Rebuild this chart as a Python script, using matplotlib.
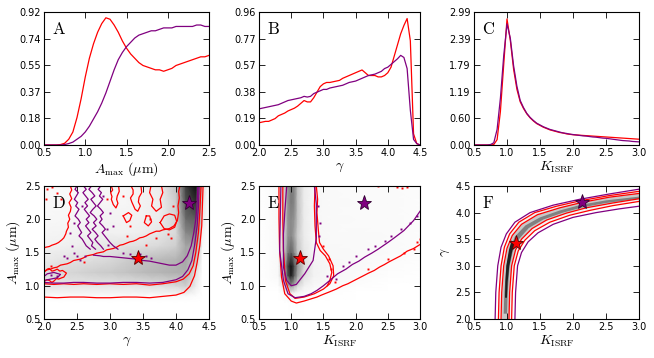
import numpy as np
import matplotlib
matplotlib.use('Agg')
import matplotlib.pyplot as plt

plt.rcParams['mathtext.fontset'] = 'cm'
plt.rcParams['font.family'] = 'DejaVu Sans'

RED = '#ff0000'
PUR = '#800080'

# ---------------- top row: 1D histograms ----------------
xA = np.linspace(0.5, 2.5, 41)
A_red = [0, 0, 0, 0, 0.003, 0.012, 0.04, 0.09, 0.19, 0.32, 0.47, 0.60, 0.70, 0.78, 0.84, 0.88,
         0.87, 0.83, 0.78, 0.72, 0.67, 0.63, 0.60, 0.57, 0.55, 0.54, 0.53, 0.52, 0.52, 0.51, 0.52,
         0.53, 0.55, 0.56, 0.57, 0.58, 0.59, 0.60, 0.61, 0.61, 0.62]
A_pur = [0, 0, 0, 0, 0, 0.003, 0.01, 0.02, 0.04, 0.06, 0.09, 0.13, 0.18, 0.23, 0.29, 0.36, 0.44,
         0.52, 0.59, 0.64, 0.68, 0.71, 0.74, 0.76, 0.77, 0.78, 0.79, 0.79, 0.80, 0.81, 0.81, 0.81,
         0.82, 0.82, 0.82, 0.82, 0.82, 0.83, 0.83, 0.82, 0.82]

xB = np.linspace(2.0, 4.5, 51)
B_pur = [0.26, 0.265, 0.27, 0.275, 0.28, 0.285, 0.29, 0.30, 0.31, 0.32, 0.325, 0.33, 0.335, 0.34,
         0.35, 0.345, 0.35, 0.37, 0.38, 0.39, 0.40, 0.40, 0.41, 0.415, 0.42, 0.425, 0.43, 0.44,
         0.45, 0.455, 0.46, 0.47, 0.48, 0.49, 0.50, 0.505, 0.51, 0.52, 0.53, 0.55, 0.56, 0.58,
         0.60, 0.62, 0.645, 0.63, 0.55, 0.25, 0.04, 0.01, 0.0]
B_red = [0.16, 0.165, 0.17, 0.17, 0.18, 0.19, 0.21, 0.22, 0.23, 0.245, 0.255, 0.265, 0.28, 0.30,
         0.32, 0.31, 0.31, 0.34, 0.38, 0.42, 0.44, 0.45, 0.45, 0.455, 0.46, 0.465, 0.48, 0.49,
         0.50, 0.51, 0.52, 0.53, 0.54, 0.52, 0.50, 0.50, 0.50, 0.49, 0.49, 0.50, 0.52, 0.56,
         0.64, 0.72, 0.80, 0.86, 0.91, 0.75, 0.08, 0.01, 0.0]

xC = np.linspace(0.5, 3.0, 51)
C_red = [0, 0, 0, 0, 0, 0, 0.01, 0.12, 0.75, 1.80, 2.83, 2.35, 1.70, 1.25, 0.97, 0.82, 0.70, 0.61,
         0.54, 0.48, 0.44, 0.40, 0.37, 0.34, 0.32, 0.30, 0.28, 0.27, 0.25, 0.24, 0.23, 0.225, 0.22,
         0.215, 0.21, 0.205, 0.20, 0.195, 0.19, 0.185, 0.18, 0.175, 0.17, 0.165, 0.16, 0.155,
         0.15, 0.145, 0.14, 0.135, 0.13]
C_pur = [0, 0, 0, 0, 0, 0.01, 0.05, 0.35, 1.05, 2.0, 2.72, 2.40, 1.78, 1.32, 1.0, 0.84, 0.71, 0.62,
         0.55, 0.49, 0.45, 0.41, 0.38, 0.35, 0.33, 0.31, 0.29, 0.27, 0.26, 0.245, 0.235, 0.225,
         0.215, 0.205, 0.20, 0.19, 0.18, 0.175, 0.165, 0.155, 0.15, 0.14, 0.13, 0.12, 0.11, 0.10,
         0.095, 0.09, 0.08, 0.075, 0.07]

# best-fit parameters (A_max, gamma, K_ISRF) marked by stars
star_red = (1.41, 3.42, 1.14)
star_pur = (2.25, 4.20, 2.13)

# ---------------- panel D: gamma vs A_max ----------------
gD_x = [2.0, 2.25, 2.5, 2.75, 3.0, 3.25, 3.5, 3.75, 4.0, 4.15, 4.3, 4.4, 4.5]
gD_y = [0.5, 0.75, 0.85, 1.0, 1.2, 1.4, 1.6, 1.8, 2.0, 2.25, 2.5]
gD_v = [
    [0, 0, 0, 0, 0, 0, 0, 0, 0, 0, 0, 0, 0],
    [0, 0, 0, 0, 0, 0, 0, 0, 0, 0, 0, 0, 0],
    [0.05, 0.05, 0.05, 0.05, 0.05, 0.05, 0.05, 0.05, 0.05, 0.05, 0.03, 0, 0],
    [0.18, 0.18, 0.18, 0.18, 0.18, 0.18, 0.2, 0.22, 0.25, 0.3, 0.15, 0, 0],
    [0.22, 0.25, 0.27, 0.3, 0.32, 0.35, 0.38, 0.4, 0.42, 0.42, 0.2, 0, 0],
    [0.15, 0.18, 0.2, 0.22, 0.25, 0.3, 0.35, 0.38, 0.4, 0.45, 0.35, 0, 0],
    [0.1, 0.12, 0.14, 0.16, 0.18, 0.2, 0.22, 0.25, 0.3, 0.45, 0.45, 0.05, 0],
    [0.08, 0.09, 0.1, 0.12, 0.12, 0.12, 0.14, 0.18, 0.25, 0.55, 0.6, 0.1, 0],
    [0.06, 0.07, 0.08, 0.1, 0.1, 0.1, 0.12, 0.15, 0.28, 0.65, 0.7, 0.15, 0],
    [0.05, 0.06, 0.07, 0.08, 0.08, 0.08, 0.1, 0.14, 0.3, 0.75, 0.85, 0.2, 0],
    [0.05, 0.05, 0.06, 0.07, 0.07, 0.08, 0.1, 0.15, 0.35, 0.8, 0.95, 0.25, 0],
]
D_red = [
    [(2.0, 0.83), (2.2, 0.82), (2.4, 0.83), (2.6, 0.83), (2.8, 0.82), (3.0, 0.82), (3.2, 0.83),
     (3.4, 0.83), (3.6, 0.82), (3.8, 0.84), (4.0, 0.86), (4.12, 0.9), (4.21, 0.99), (4.28, 1.15),
     (4.32, 1.35), (4.36, 1.6), (4.39, 1.9), (4.40, 2.2), (4.41, 2.5)],
    [(2.0, 1.03), (2.15, 1.02), (2.3, 1.03), (2.45, 1.02), (2.6, 1.03), (2.8, 1.02), (3.0, 1.03),
     (3.2, 1.02), (3.4, 1.03), (3.6, 1.01), (3.8, 1.03), (4.0, 1.06), (4.11, 1.1), (4.2, 1.18),
     (4.26, 1.3), (4.3, 1.5), (4.34, 1.8), (4.36, 2.1), (4.38, 2.5)],
    [(2.40, 2.50), (2.42, 2.44), (2.39, 2.38), (2.42, 2.31), (2.38, 2.25), (2.41, 2.18), (2.40, 2.12),
     (2.37, 2.06), (2.39, 2.0), (2.36, 1.94), (2.37, 1.88), (2.34, 1.82), (2.33, 1.78), (2.30, 1.72),
     (2.27, 1.69), (2.22, 1.65), (2.18, 1.63), (2.12, 1.61), (2.08, 1.59), (2.03, 1.58), (2.0, 1.57)],
    [(2.0, 1.22), (2.05, 1.24), (2.1, 1.25), (2.15, 1.27), (2.2, 1.28), (2.25, 1.31), (2.3, 1.32),
     (2.35, 1.33), (2.4, 1.35), (2.45, 1.38), (2.5, 1.39), (2.55, 1.40), (2.6, 1.42), (2.65, 1.45),
     (2.7, 1.46), (2.75, 1.47), (2.8, 1.49), (2.85, 1.50), (2.9, 1.51), (2.95, 1.54), (3.0, 1.55),
     (3.05, 1.56), (3.1, 1.58), (3.15, 1.61), (3.2, 1.62), (3.25, 1.64), (3.3, 1.66), (3.35, 1.67),
     (3.4, 1.69), (3.45, 1.72), (3.5, 1.73), (3.55, 1.75), (3.6, 1.78), (3.65, 1.80), (3.7, 1.82),
     (3.75, 1.82), (3.8, 1.84), (3.85, 1.85), (3.9, 1.86), (3.97, 1.9), (4.02, 1.98), (4.04, 2.1),
     (4.03, 2.2), (4.05, 2.32), (4.04, 2.42), (4.06, 2.5)],
    [(3.02, 2.5), (3.04, 2.44), (3.01, 2.4), (3.03, 2.34), (3.02, 2.3), (3.05, 2.22), (3.09, 2.17),
     (3.12, 2.24), (3.10, 2.3), (3.11, 2.35), (3.14, 2.42), (3.13, 2.5)],
    [(3.32, 2.5), (3.35, 2.44), (3.35, 2.38), (3.31, 2.32), (3.33, 2.26), (3.38, 2.15), (3.42, 2.12),
     (3.46, 2.2), (3.43, 2.26), (3.44, 2.33), (3.48, 2.4), (3.47, 2.5)],
    [(3.62, 2.5), (3.6, 2.4), (3.65, 2.3), (3.63, 2.2), (3.7, 2.12), (3.78, 2.18), (3.76, 2.3),
     (3.8, 2.4), (3.78, 2.5)],
    [(3.76, 1.95), (3.82, 1.86), (3.9, 1.84), (3.98, 1.88), (4.01, 1.97), (3.98, 2.06), (3.9, 2.08),
     (3.82, 2.05), (3.76, 1.95)],
    [(3.2, 2.05), (3.25, 1.95), (3.3, 1.98), (3.33, 2.06), (3.28, 2.1), (3.2, 2.05)],
    [(3.55, 2.05), (3.52, 1.95), (3.58, 1.9), (3.63, 1.96), (3.6, 2.05), (3.55, 2.05)],
    [(2.0, 1.06), (2.04, 1.09), (2.08, 1.08), (2.12, 1.05), (2.15, 1.07), (2.19, 1.11), (2.22, 1.1),
     (2.27, 1.12), (2.3, 1.13), (2.34, 1.19), (2.31, 1.21), (2.28, 1.23), (2.24, 1.22), (2.2, 1.25),
     (2.16, 1.23), (2.12, 1.22), (2.08, 1.26), (2.05, 1.25), (2.0, 1.2)],
]
D_pur = [
    [(2.0, 1.05), (2.15, 1.04), (2.3, 1.04), (2.45, 1.05), (2.6, 1.05), (2.8, 1.04), (3.0, 1.04),
     (3.2, 1.05), (3.4, 1.05), (3.6, 1.04), (3.8, 1.05), (4.0, 1.09), (4.1, 1.14), (4.18, 1.24),
     (4.24, 1.38), (4.28, 1.6), (4.32, 1.9), (4.34, 2.2), (4.35, 2.5)],
    [(2.75, 1.46), (2.85, 1.45), (2.9, 1.44), (3.0, 1.44), (3.1, 1.43), (3.2, 1.42), (3.3, 1.41),
     (3.4, 1.40), (3.5, 1.38), (3.6, 1.37), (3.7, 1.35), (3.8, 1.33), (3.9, 1.31), (4.0, 1.31),
     (4.1, 1.36), (4.17, 1.45), (4.23, 1.6), (4.27, 1.8), (4.3, 2.0), (4.32, 2.25), (4.33, 2.5)],
    [(2.0, 1.08), (2.1, 1.1), (2.2, 1.12), (2.25, 1.17), (2.15, 1.2), (2.05, 1.18), (2.0, 1.14)],
]
# jagged purple contour column around gamma ~ 2.5-2.9 (sampled at A_max 2.50 ... 1.55)
D_col_y = [2.50, 2.45, 2.40, 2.35, 2.30, 2.25, 2.20, 2.15, 2.10, 2.05, 2.00, 1.95, 1.90, 1.85,
           1.80, 1.75, 1.70, 1.65, 1.60, 1.55]
D_col_x = [
    [2.50, 2.47, 2.52, 2.49, 2.46, 2.51, 2.48, 2.53, 2.50, 2.47, 2.52, 2.55, 2.51, 2.54, 2.57,
     2.53, 2.58, 2.61, 2.64, 2.70],
    [2.60, 2.64, 2.59, 2.63, 2.67, 2.62, 2.66, 2.61, 2.65, 2.69, 2.64, 2.68, 2.63, 2.67, 2.71,
     2.66, 2.70, 2.74, 2.72, 2.78],
    [2.72, 2.68, 2.73, 2.77, 2.71, 2.75, 2.79, 2.74, 2.70, 2.76, 2.80, 2.75, 2.79, 2.73, 2.78,
     2.82, 2.77, 2.81, 2.86, 2.90],
    [2.86, 2.82, 2.87, 2.84, 2.89, 2.85, 2.81, 2.86, 2.90, 2.85, 2.88, 2.84, 2.89, 2.93, 2.88,
     2.92, 2.96, 3.00, 3.05, 3.12],
]
D_pur_dots = [(2.35, 1.42), (2.45, 1.5), (2.55, 1.38), (2.62, 1.45), (3.45, 1.47), (3.55, 1.44),
              (2.4, 1.8), (2.45, 1.95), (2.95, 1.85), (3.0, 2.1), (2.2, 1.15), (2.1, 1.16),
              (2.9, 2.35), (2.58, 2.2), (3.2, 1.5), (2.3, 1.45), (2.42, 1.6), (2.97, 1.62),
              (3.05, 1.9), (2.5, 1.45), (3.3, 1.47), (3.62, 1.41)]
D_red_dots = [(2.05, 2.45), (2.12, 2.48), (2.2, 2.4), (3.25, 1.75), (3.55, 1.62), (3.7, 1.72),
              (3.92, 1.72), (2.6, 1.35), (2.1, 1.3), (3.3, 1.9), (3.6, 2.0), (2.25, 2.3),
              (2.95, 2.3), (3.2, 2.35), (3.88, 1.78), (3.95, 2.2), (2.03, 2.3)]

# ---------------- panel E: K_ISRF vs A_max ----------------
gE_x = [0.5, 0.8, 0.9, 0.95, 1.0, 1.05, 1.1, 1.2, 1.35, 1.6, 2.0, 2.5, 3.0]
gE_y = [0.5, 0.75, 0.9, 1.0, 1.15, 1.3, 1.5, 1.75, 2.0, 2.25, 2.5]
gE_v = [
    [0, 0, 0, 0, 0, 0, 0, 0, 0, 0, 0, 0, 0],
    [0, 0, 0, 0, 0.02, 0.02, 0.02, 0, 0, 0, 0, 0, 0],
    [0, 0, 0.05, 0.1, 0.15, 0.12, 0.08, 0.05, 0.03, 0.02, 0, 0, 0],
    [0, 0.02, 0.2, 0.4, 0.5, 0.4, 0.25, 0.12, 0.06, 0.04, 0.02, 0, 0],
    [0, 0.05, 0.4, 0.75, 0.9, 0.7, 0.45, 0.22, 0.1, 0.06, 0.04, 0.02, 0],
    [0, 0.05, 0.45, 0.8, 0.95, 0.75, 0.5, 0.25, 0.1, 0.07, 0.05, 0.03, 0.01],
    [0, 0.05, 0.35, 0.6, 0.7, 0.55, 0.35, 0.18, 0.08, 0.06, 0.05, 0.04, 0.03],
    [0, 0.05, 0.3, 0.5, 0.55, 0.45, 0.3, 0.15, 0.07, 0.05, 0.05, 0.04, 0.03],
    [0, 0.05, 0.3, 0.5, 0.55, 0.5, 0.35, 0.15, 0.07, 0.05, 0.04, 0.04, 0.03],
    [0, 0.05, 0.3, 0.5, 0.6, 0.55, 0.35, 0.15, 0.07, 0.05, 0.04, 0.04, 0.03],
    [0, 0.05, 0.3, 0.5, 0.6, 0.55, 0.35, 0.15, 0.07, 0.05, 0.04, 0.04, 0.03],
]
E_red = [
    [(0.81, 2.5), (0.81, 2.03), (0.82, 1.53), (0.85, 1.13), (0.9, 0.88), (1.0, 0.77), (1.08, 0.74),
     (1.2, 0.77), (1.3, 0.8), (1.4, 0.83), (1.47, 0.86), (1.6, 0.91), (1.7, 0.95), (1.8, 1.0),
     (1.88, 1.03), (2.0, 1.09), (2.1, 1.14), (2.2, 1.19), (2.29, 1.23), (2.37, 1.28), (2.45, 1.32),
     (2.52, 1.36), (2.6, 1.4), (2.7, 1.45), (2.8, 1.52), (2.9, 1.56), (3.0, 1.62)],
    [(0.87, 2.5), (0.87, 2.0), (0.88, 1.53), (0.91, 1.08), (0.98, 0.88), (1.06, 0.81), (1.2, 0.83),
     (1.36, 0.88), (1.5, 0.95), (1.6, 1.03), (1.66, 1.15), (1.65, 1.3), (1.58, 1.45), (1.5, 1.55),
     (1.44, 1.65), (1.42, 1.85), (1.4, 2.1), (1.41, 2.3), (1.39, 2.5)],
    [(1.56, 1.0), (1.6, 1.08), (1.63, 1.2), (1.6, 1.33), (1.53, 1.45), (1.45, 1.53), (1.39, 1.65),
     (1.37, 1.9), (1.36, 2.2), (1.37, 2.5)],
]
E_pur = [
    [(0.84, 2.5), (0.83, 2.0), (0.82, 1.53), (0.88, 1.08), (0.95, 0.88), (1.06, 0.82), (1.2, 0.84),
     (1.31, 0.88), (1.4, 0.93), (1.5, 1.0), (1.6, 1.08), (1.72, 1.18), (1.85, 1.25), (1.95, 1.32),
     (2.05, 1.37), (2.14, 1.43), (2.25, 1.49), (2.35, 1.55), (2.5, 1.65), (2.6, 1.72), (2.75, 1.83),
     (2.9, 1.98), (3.0, 2.12)],
    [(0.93, 2.5), (0.9, 2.1), (0.88, 1.78), (0.88, 1.28), (0.93, 1.08), (1.0, 1.0), (1.08, 1.02),
     (1.21, 1.18), (1.34, 1.38), (1.39, 1.72), (1.39, 2.0), (1.39, 2.23), (1.36, 2.5)],
]
E_pur_dots = [(1.42, 2.2), (1.45, 1.95), (1.43, 1.75), (1.55, 1.15), (1.8, 1.3), (2.0, 1.45),
              (2.3, 1.6), (2.55, 1.75), (2.85, 1.95), (2.95, 2.05), (2.7, 1.85), (1.7, 1.1),
              (2.2, 1.55), (2.45, 1.68), (1.9, 1.35)]
E_red_dots = [(2.65, 2.48), (2.72, 2.47), (2.8, 2.48), (2.35, 2.5), (1.62, 1.25), (1.58, 1.4),
              (2.2, 1.25), (2.5, 1.4), (2.9, 1.55), (3.0, 1.7), (1.5, 1.6), (1.68, 1.05),
              (2.75, 1.5), (2.95, 1.66)]

# ---------------- panel F: K_ISRF vs gamma ----------------
F_pur = [
    [(0.82, 2.0), (0.83, 2.5), (0.86, 3.0), (0.91, 3.35), (0.99, 3.6), (1.12, 3.82), (1.35, 4.0),
     (1.7, 4.14), (2.1, 4.25), (2.55, 4.35), (3.0, 4.44)],
    [(1.12, 2.0), (1.13, 2.5), (1.16, 3.0), (1.22, 3.25), (1.32, 3.45), (1.47, 3.62), (1.7, 3.78),
     (2.0, 3.91), (2.35, 4.0), (2.7, 4.07), (3.0, 4.12)],
]
F_red = [
    [(0.87, 2.0), (0.88, 2.5), (0.91, 3.0), (0.96, 3.35), (1.04, 3.6), (1.18, 3.82), (1.42, 4.0),
     (1.75, 4.12), (2.1, 4.22), (2.55, 4.32), (3.0, 4.40)],
    [(0.91, 2.0), (0.92, 2.5), (0.95, 3.0), (1.0, 3.33), (1.08, 3.57), (1.22, 3.78), (1.46, 3.96),
     (1.8, 4.09), (2.13, 4.19), (2.55, 4.29), (3.0, 4.36)],
    [(1.03, 2.0), (1.04, 2.5), (1.07, 3.0), (1.13, 3.3), (1.22, 3.5), (1.38, 3.7), (1.6, 3.86),
     (1.9, 3.99), (2.2, 4.09), (2.6, 4.18), (3.0, 4.26)],
    [(1.07, 2.0), (1.08, 2.5), (1.11, 3.0), (1.17, 3.28), (1.27, 3.48), (1.42, 3.66), (1.65, 3.82),
     (1.95, 3.95), (2.25, 4.04), (2.6, 4.13), (3.0, 4.21)],
]
# grey density band (edges) and its dark core
F_band_l = [(0.92, 2.0), (0.93, 2.5), (0.96, 3.0), (1.01, 3.33), (1.09, 3.57), (1.23, 3.78),
            (1.47, 3.96), (1.8, 4.09), (2.13, 4.19), (2.55, 4.29), (3.0, 4.36)]
F_band_r = [(1.03, 2.0), (1.04, 2.5), (1.07, 3.0), (1.13, 3.3), (1.22, 3.5), (1.38, 3.7),
            (1.6, 3.86), (1.9, 3.99), (2.2, 4.09), (2.6, 4.18), (3.0, 4.26)]
F_core_l = [(0.95, 2.1), (0.96, 2.5), (0.99, 3.0), (1.04, 3.3), (1.12, 3.55), (1.28, 3.76),
            (1.5, 3.91), (1.8, 4.04), (2.13, 4.15), (2.5, 4.23), (3.0, 4.3)]
F_core_r = [(1.0, 2.1), (1.01, 2.5), (1.04, 3.0), (1.09, 3.28), (1.18, 3.5), (1.33, 3.71),
            (1.55, 3.87), (1.85, 4.0), (2.15, 4.1), (2.5, 4.18), (3.0, 4.26)]
F_dark_l = [(0.97, 2.4), (0.975, 2.7), (0.99, 3.0), (1.03, 3.3), (1.07, 3.48)]
F_dark_r = [(1.0, 2.4), (1.01, 2.7), (1.035, 3.0), (1.075, 3.25), (1.11, 3.42)]


def style(ax, letter):
    ax.tick_params(direction='in', length=4, width=0.6, top=True, right=True,
                   labelsize=7, pad=2.5)
    for s in ax.spines.values():
        s.set_linewidth(0.8)
    ax.text(0.05, 0.94, r'$\mathrm{%s}$' % letter, transform=ax.transAxes,
            fontsize=12, ha='left', va='top', zorder=10)


def lines(ax, groups, color, lw=0.9):
    for g in groups:
        g = np.array(g)
        ax.plot(g[:, 0], g[:, 1], color=color, lw=lw)


def dots(ax, pts, color):
    p = np.array(pts)
    ax.plot(p[:, 0], p[:, 1], 's', color=color, ms=1.4, mew=0)


def band(ax, left, right, color):
    l = np.array(left)
    r = np.array(right)
    poly = np.vstack([l, r[::-1]])
    ax.fill(poly[:, 0], poly[:, 1], color=color, lw=0, zorder=1)


def stars(ax, ix, iy):
    ax.plot(star_red[ix], star_red[iy], '*', color=RED, ms=11, mec='#550000', mew=0.6, zorder=6)
    ax.plot(star_pur[ix], star_pur[iy], '*', color=PUR, ms=11, mec='#300030', mew=0.6, zorder=6)


fig = plt.figure(figsize=(6.54, 3.58), dpi=100)
W, H = 654.0, 358.0
cols = [(44, 165), (259, 161), (474, 165)]
rows = [(12, 133), (186, 133)]


def rect(c, r):
    x0, w = cols[c]
    y0, h = rows[r]
    return [x0 / W, 1 - (y0 + h) / H, w / W, h / H]


# A
ax = fig.add_axes(rect(0, 0))
ax.plot(xA, A_red, color=RED, lw=0.9)
ax.plot(xA, A_pur, color=PUR, lw=0.9)
ax.set_xlim(0.5, 2.5)
ax.set_ylim(0, 0.92)
ax.set_yticks(np.linspace(0, 0.92, 6))
ax.yaxis.set_major_formatter(plt.FormatStrFormatter('%.2f'))
ax.set_xticks([0.5, 1.0, 1.5, 2.0, 2.5])
ax.set_xlabel(r'$A_{\rm max}\ (\mu{\rm m})$', fontsize=10, labelpad=1)
style(ax, 'A')

# B
ax = fig.add_axes(rect(1, 0))
ax.plot(xB, B_red, color=RED, lw=0.9)
ax.plot(xB, B_pur, color=PUR, lw=0.9)
ax.set_xlim(2.0, 4.5)
ax.set_ylim(0, 0.957)
ax.set_yticks(np.linspace(0, 0.957, 6))
ax.yaxis.set_major_formatter(plt.FormatStrFormatter('%.2f'))
ax.set_xticks([2.0, 2.5, 3.0, 3.5, 4.0, 4.5])
ax.set_xlabel(r'$\gamma$', fontsize=10, labelpad=1)
style(ax, 'B')

# C
ax = fig.add_axes(rect(2, 0))
ax.plot(xC, C_red, color=RED, lw=0.9)
ax.plot(xC, C_pur, color=PUR, lw=0.9)
ax.set_xlim(0.5, 3.0)
ax.set_ylim(0, 2.986)
ax.set_yticks(np.linspace(0, 2.986, 6))
ax.yaxis.set_major_formatter(plt.FormatStrFormatter('%.2f'))
ax.set_xticks([0.5, 1.0, 1.5, 2.0, 2.5, 3.0])
ax.set_xlabel(r'$K_{\rm ISRF}$', fontsize=10, labelpad=1)
style(ax, 'C')

# D
ax = fig.add_axes(rect(0, 1))
gx, gy = np.meshgrid(gD_x, gD_y)
ax.pcolormesh(gx, gy, np.array(gD_v), shading='gouraud', cmap='Greys', vmin=0, vmax=1, zorder=0)
lines(ax, D_red, RED)
lines(ax, D_pur, PUR)
for cx in D_col_x:
    ax.plot(cx, D_col_y, color=PUR, lw=0.9)
dots(ax, D_red_dots, RED)
dots(ax, D_pur_dots, PUR)
stars(ax, 1, 0)
ax.set_xlim(2.0, 4.5)
ax.set_ylim(0.5, 2.5)
ax.set_xticks([2.0, 2.5, 3.0, 3.5, 4.0, 4.5])
ax.set_yticks([0.5, 1.0, 1.5, 2.0, 2.5])
ax.set_xlabel(r'$\gamma$', fontsize=10, labelpad=1)
ax.set_ylabel(r'$A_{\rm max}\ (\mu{\rm m})$', fontsize=10, labelpad=2)
style(ax, 'D')

# E
ax = fig.add_axes(rect(1, 1))
gx, gy = np.meshgrid(gE_x, gE_y)
ax.pcolormesh(gx, gy, np.array(gE_v), shading='gouraud', cmap='Greys', vmin=0, vmax=1, zorder=0)
lines(ax, E_red, RED)
lines(ax, E_pur, PUR)
dots(ax, E_red_dots, RED)
dots(ax, E_pur_dots, PUR)
stars(ax, 2, 0)
ax.set_xlim(0.5, 3.0)
ax.set_ylim(0.5, 2.5)
ax.set_xticks([0.5, 1.0, 1.5, 2.0, 2.5, 3.0])
ax.set_yticks([0.5, 1.0, 1.5, 2.0, 2.5])
ax.set_xlabel(r'$K_{\rm ISRF}$', fontsize=10, labelpad=1)
ax.set_ylabel(r'$A_{\rm max}\ (\mu{\rm m})$', fontsize=10, labelpad=2)
style(ax, 'E')

# F
ax = fig.add_axes(rect(2, 1))
band(ax, F_red[0], F_red[3], '#f2f2f2')
band(ax, F_band_l, F_band_r, '#c8c8c8')
band(ax, F_core_l, F_core_r, '#808080')
band(ax, F_dark_l, F_dark_r, '#202020')
lines(ax, F_red, RED)
lines(ax, F_pur, PUR)
stars(ax, 2, 1)
ax.set_xlim(0.5, 3.0)
ax.set_ylim(2.0, 4.5)
ax.set_xticks([0.5, 1.0, 1.5, 2.0, 2.5, 3.0])
ax.set_yticks([2.0, 2.5, 3.0, 3.5, 4.0, 4.5])
ax.set_xlabel(r'$K_{\rm ISRF}$', fontsize=10, labelpad=1)
ax.set_ylabel(r'$\gamma$', fontsize=10, labelpad=2)
style(ax, 'F')

fig.savefig('out.png', dpi=100)
